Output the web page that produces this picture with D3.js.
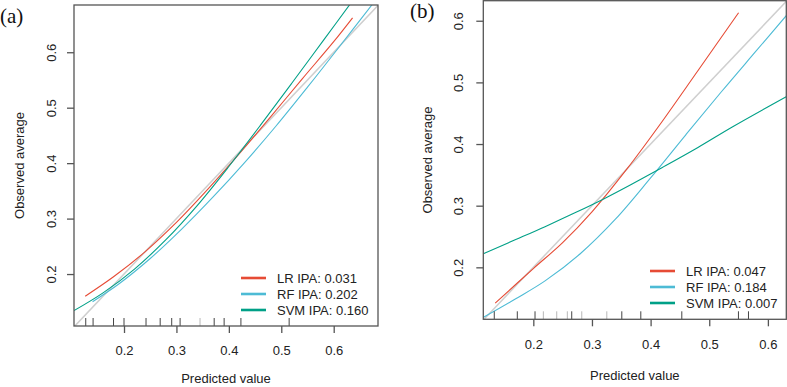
<!DOCTYPE html>
<html>
<head>
<meta charset="utf-8">
<script src="https://cdn.jsdelivr.net/npm/d3@7"></script>
<style>
  html, body { margin: 0; padding: 0; background: #fff; }
  svg { display: block; }
</style>
</head>
<body>
<svg id="chart" width="787" height="387"></svg>
<script>
// ---------- data ----------
const xTicks = [0.2, 0.3, 0.4, 0.5, 0.6];
const yTicks = [0.2, 0.3, 0.4, 0.5, 0.6];
const seriesNames = ["LR", "RF", "SVM"];
const seriesColors = ["#E64B35", "#4DBBD5", "#00A087"];

// panel (a)
const aIPA = ["0.031", "0.202", "0.160"];
const aLR = [[0.126,0.160],[0.18,0.195],[0.24,0.240],[0.30,0.293],[0.36,0.353],[0.42,0.417],[0.48,0.484],[0.54,0.552],[0.60,0.619],[0.636,0.662]];
const aRF = [[0.14,0.150],[0.19,0.182],[0.25,0.228],[0.31,0.281],[0.37,0.339],[0.43,0.401],[0.49,0.467],[0.55,0.537],[0.61,0.609],[0.675,0.688]];
const aSVM = [[0.1046,0.134],[0.16,0.166],[0.22,0.209],[0.28,0.262],[0.34,0.324],[0.40,0.394],[0.46,0.468],[0.52,0.544],[0.58,0.621],[0.64,0.698]];
const aRug = [0.127,0.141,0.180,0.200,0.242,0.269,0.291,0.307,0.345,0.372,0.391,0.423,0.515];
const aRugLight = [false,false,false,false,false,false,false,false,true,false,false,false,false];

// panel (b)
const bIPA = ["0.047", "0.184", "0.007"];
const bLR = [[0.135,0.142],[0.20,0.198],[0.25,0.240],[0.30,0.290],[0.36,0.360],[0.42,0.437],[0.48,0.518],[0.55,0.613]];
const bRF = [[0.115,0.119],[0.17,0.149],[0.22,0.178],[0.28,0.222],[0.34,0.278],[0.40,0.345],[0.46,0.415],[0.52,0.484],[0.58,0.551],[0.632,0.609]];
const bSVM = [[0.1147,0.222],[0.17,0.245],[0.22,0.266],[0.27,0.288],[0.32,0.311],[0.37,0.336],[0.42,0.362],[0.48,0.394],[0.54,0.428],[0.632,0.477]];
const bRug = [0.1334,0.1727,0.2029,0.2171,0.2399,0.258,0.2655,0.2826,0.3253,0.3509,0.3833,0.4532,0.5498,0.5669];
const bRugLight = [false,false,false,true,true,true,false,true,true,false,false,false,false,false];

// ---------- drawing ----------
const svg = d3.select("#chart");
const FONT = "'Liberation Sans', Arial, sans-serif";

function drawPanel(cfg) {
  const x = d3.scaleLinear().domain(cfg.xDomain).range([cfg.left, cfg.right]);
  const y = d3.scaleLinear().domain(cfg.yDomain).range([cfg.bottom, cfg.top]);
  const g = svg.append("g");
  const clipId = "clip-" + cfg.id;
  svg.append("defs").append("clipPath").attr("id", clipId)
    .append("rect").attr("x", cfg.left).attr("y", cfg.top)
    .attr("width", cfg.right - cfg.left).attr("height", cfg.bottom - cfg.top);

  const plot = g.append("g").attr("clip-path", `url(#${clipId})`);
  // diagonal reference
  const lo = Math.min(cfg.xDomain[0], cfg.yDomain[0]) - 0.05;
  const hi = Math.max(cfg.xDomain[1], cfg.yDomain[1]) + 0.05;
  plot.append("line")
    .attr("x1", x(lo)).attr("y1", y(lo)).attr("x2", x(hi)).attr("y2", y(hi))
    .attr("stroke", "#cfcfcf").attr("stroke-width", 1.5);

  const line = d3.line().x(d => x(d[0])).y(d => y(d[1])).curve(d3.curveCatmullRom.alpha(0.5));
  cfg.series.forEach((s, i) => {
    plot.append("path").datum(s).attr("d", line)
      .attr("fill", "none").attr("stroke", seriesColors[i]).attr("stroke-width", 1.1);
  });

  // rug
  plot.selectAll(null).data(cfg.rug).enter().append("line")
    .attr("x1", d => x(d)).attr("x2", d => x(d))
    .attr("y1", cfg.bottom).attr("y2", cfg.bottom - 8)
    .attr("stroke", (d, i) => cfg.rugLight[i] ? "#b8b8b8" : "#444")
    .attr("stroke-width", 1);

  // box
  g.append("rect").attr("x", cfg.left).attr("y", cfg.top)
    .attr("width", cfg.right - cfg.left).attr("height", cfg.bottom - cfg.top)
    .attr("fill", "none").attr("stroke", "#555").attr("stroke-width", 1.3);

  // x axis
  const xa = g.append("g").attr("transform", `translate(0,${cfg.bottom})`)
    .call(d3.axisBottom(x).tickValues(xTicks).tickFormat(d3.format(".1f")).tickSize(7).tickSizeOuter(0));
  xa.select(".domain").remove();
  xa.selectAll(".tick line").attr("stroke", "#555").attr("stroke-width", 1.3);
  xa.selectAll(".tick text").attr("font-family", FONT).attr("font-size", 13)
    .attr("fill", "#222").attr("dy", null).attr("y", cfg.xLabelY - cfg.bottom);

  // y axis
  const ya = g.append("g").attr("transform", `translate(${cfg.left},0)`)
    .call(d3.axisLeft(y).tickValues(yTicks).tickFormat(d3.format(".1f")).tickSize(7).tickSizeOuter(0));
  ya.select(".domain").remove();
  ya.selectAll(".tick line").attr("stroke", "#555").attr("stroke-width", 1.3);
  ya.selectAll(".tick text").attr("font-family", FONT).attr("font-size", 13)
    .attr("fill", "#222").attr("x", null).attr("dy", null)
    .attr("text-anchor", "middle")
    .attr("transform", `translate(${cfg.yLabelX - cfg.left},0) rotate(-90)`);

  // axis titles
  g.append("text").attr("x", (cfg.left + cfg.right) / 2).attr("y", cfg.xTitleY)
    .attr("text-anchor", "middle").attr("font-family", FONT).attr("font-size", 13)
    .attr("fill", "#222").text("Predicted value");
  g.append("text")
    .attr("transform", `translate(${cfg.yTitleX},${(cfg.top + cfg.bottom) / 2}) rotate(-90)`)
    .attr("text-anchor", "middle").attr("font-family", FONT).attr("font-size", 13)
    .attr("fill", "#222").text("Observed average");

  // panel label
  g.append("text").attr("x", cfg.tagX).attr("y", cfg.tagY)
    .attr("font-family", "'Liberation Serif', 'Times New Roman', serif").attr("font-size", 21)
    .attr("fill", "#111").text(cfg.tag);

  // legend
  seriesNames.forEach((n, i) => {
    const ly = cfg.legendY + i * cfg.legendGap;
    g.append("line").attr("x1", cfg.legendX).attr("x2", cfg.legendX + 25)
      .attr("y1", ly).attr("y2", ly).attr("stroke", seriesColors[i]).attr("stroke-width", 2.6);
    g.append("text").attr("x", cfg.legendX + 36).attr("y", ly + 4.5)
      .attr("font-family", FONT).attr("font-size", 13).attr("fill", "#222")
      .text(`${n} IPA: ${cfg.ipa[i]}`);
  });
}

drawPanel({
  id: "a", tag: "(a)", tagX: 0, tagY: 23,
  left: 74, right: 378, top: 5, bottom: 326,
  xDomain: [0.1046, 0.6845], yDomain: [0.1063, 0.6852],
  series: [aLR, aRF, aSVM], rug: aRug, rugLight: aRugLight, ipa: aIPA,
  xLabelY: 355, yLabelX: 56, xTitleY: 383, yTitleX: 24,
  legendX: 241, legendY: 278, legendGap: 16
});

drawPanel({
  id: "b", tag: "(b)", tagX: 410, tagY: 18,
  left: 483.3, right: 786.3, top: 0.7, bottom: 319.3,
  xDomain: [0.1147, 0.6314], yDomain: [0.1157, 0.6325],
  series: [bLR, bRF, bSVM], rug: bRug, rugLight: bRugLight, ipa: bIPA,
  xLabelY: 349, yLabelX: 463, xTitleY: 380, yTitleX: 432,
  legendX: 650, legendY: 271, legendGap: 16
});
</script>
</body>
</html>
